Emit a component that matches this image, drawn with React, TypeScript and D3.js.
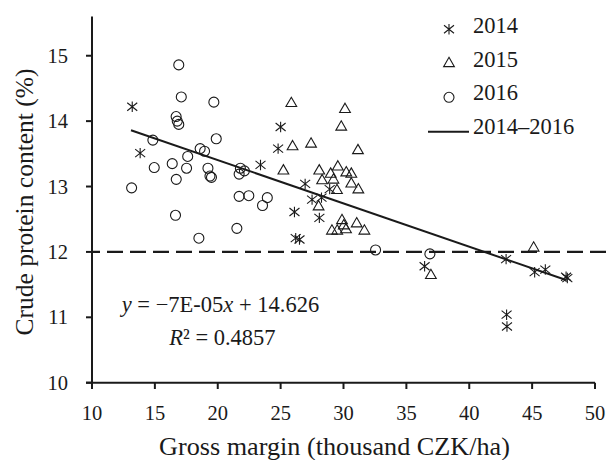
import React from "react";
import * as d3 from "d3";

// ---- data ----
const x2014 = [13.2, 13.83, 23.4, 24.8, 25.0, 26.95, 26.1, 26.2, 26.5, 27.5, 28.25, 28.08, 28.9, 36.45, 42.93, 42.97, 43.0, 45.2, 46.05, 47.7, 47.8];
const y2014 = [14.22, 13.51, 13.33, 13.58, 13.91, 13.04, 12.61, 12.21, 12.19, 12.8, 12.83, 12.52, 12.96, 11.78, 11.89, 11.04, 10.86, 11.69, 11.73, 11.62, 11.6];

const x2015 = [25.85, 30.12, 29.82, 25.95, 27.42, 31.15, 25.22, 28.07, 29.55, 28.98, 30.22, 30.62, 28.3, 29.2, 30.62, 29.48, 31.18, 28.02, 29.88, 30.02, 31.05, 29.08, 29.5, 30.2, 31.66, 45.12, 36.95];
const y2015 = [14.27, 14.18, 13.91, 13.61, 13.65, 13.55, 13.24, 13.24, 13.3, 13.19, 13.21, 13.19, 13.09, 13.1, 13.04, 12.94, 12.95, 12.69, 12.48, 12.4, 12.43, 12.32, 12.32, 12.34, 12.32, 12.06, 11.64];

const x2016 = [16.9, 17.1, 19.69, 16.69, 16.78, 16.9, 14.84, 19.88, 18.6, 18.95, 17.61, 14.95, 16.38, 17.52, 16.7, 19.22, 19.38, 19.5, 13.15, 21.8, 22.12, 21.7, 21.7, 22.47, 23.56, 23.94, 16.64, 18.5, 21.52, 32.55, 36.87];
const y2016 = [14.86, 14.37, 14.29, 14.07, 14.0, 13.95, 13.71, 13.73, 13.58, 13.54, 13.46, 13.29, 13.35, 13.28, 13.11, 13.28, 13.16, 13.14, 12.98, 13.28, 13.24, 13.19, 12.85, 12.86, 12.71, 12.83, 12.56, 12.21, 12.36, 12.03, 11.97];

const trendX = [13.1, 47.7];
const trendY = [13.86, 11.57];
const threshold = 12;

const xTicks = [10, 15, 20, 25, 30, 35, 40, 45, 50];
const yTicks = [10, 11, 12, 13, 14, 15];
const legendLabels = ["2014", "2015", "2016", "2014\u20132016"];

const FONT = "'Liberation Serif', 'Times New Roman', serif";
const INK = "#1a1a1a";

const asteriskType = {
  draw(ctx: any, _size: number) {
    ctx.moveTo(0, -5.2);
    ctx.lineTo(0, 5.2);
    ctx.moveTo(-5, -4);
    ctx.lineTo(5, 4);
    ctx.moveTo(-5, 4);
    ctx.lineTo(5, -4);
  },
};

export default function App() {
  const x = d3.scaleLinear().domain([10, 50]).range([92, 595]);
  const y = d3.scaleLinear().domain([10, 15.6]).range([382.7, 16.5]);

  const asterisk = d3.symbol().type(asteriskType as any)()!;
  const triangle = d3.symbol().type(d3.symbolTriangle).size(50)()!;
  const circle = d3.symbol().type(d3.symbolCircle).size(Math.PI * 25)()!;

  const line = d3.line<number>().x((d, i) => x(trendX[i])).y((d, i) => y(d));

  const markerStyle = { fill: "none", stroke: INK, strokeWidth: 1.1 };

  return (
    <svg width={609} height={460} style={{ position: "absolute", left: 0, top: 0, background: "#fff" }}>
      {/* threshold dashed line */}
      <line x1={x(10)} x2={609} y1={y(threshold)} y2={y(threshold)} stroke={INK} strokeWidth={2.4} strokeDasharray="16 7" strokeDashoffset={8} />

      {/* axes */}
      <line x1={x(10)} x2={x(10)} y1={16.5} y2={389} stroke={INK} strokeWidth={2} />
      <line x1={86} x2={x(50)} y1={y(10)} y2={y(10)} stroke={INK} strokeWidth={2} />
      {yTicks.map((t) => (
        <g key={"yt" + t}>
          <line x1={86} x2={x(10)} y1={y(t)} y2={y(t)} stroke={INK} strokeWidth={2} />
          <text x={68} y={y(t)} dy="0.35em" textAnchor="end" fontFamily={FONT} fontSize={20.5} fill={INK}>{t}</text>
        </g>
      ))}
      {xTicks.map((t) => (
        <g key={"xt" + t}>
          <line x1={x(t)} x2={x(t)} y1={y(10)} y2={389} stroke={INK} strokeWidth={2} />
          <text x={x(t)} y={420} textAnchor="middle" fontFamily={FONT} fontSize={20.5} fill={INK}>{t}</text>
        </g>
      ))}

      {/* axis titles */}
      <text x={334.5} y={455} textAnchor="middle" fontFamily={FONT} fontSize={26.2} fill={INK}>Gross margin (thousand CZK/ha)</text>
      <text transform={`translate(33,202) rotate(-90)`} textAnchor="middle" fontFamily={FONT} fontSize={25.5} fill={INK}>Crude protein content (%)</text>

      {/* trend line */}
      <path d={line(trendY) || ""} fill="none" stroke={INK} strokeWidth={2} />

      {/* points */}
      {x2016.map((v, i) => (
        <path key={"c" + i} d={circle} transform={`translate(${x(v)},${y(y2016[i])})`} {...markerStyle} />
      ))}
      {x2015.map((v, i) => (
        <path key={"t" + i} d={triangle} transform={`translate(${x(v)},${y(y2015[i])})`} {...markerStyle} />
      ))}
      {x2014.map((v, i) => (
        <path key={"a" + i} d={asterisk} transform={`translate(${x(v)},${y(y2014[i])})`} {...markerStyle} />
      ))}

      {/* equation */}
      <text x={121.7} y={311.7} fontFamily={FONT} fontSize={22.5} fill={INK}>
        <tspan fontStyle="italic">y</tspan> = −7E-05<tspan fontStyle="italic">x</tspan> + 14.626
      </text>
      <text x={169.3} y={345} fontFamily={FONT} fontSize={22.5} fill={INK}>
        <tspan fontStyle="italic">R</tspan>² = 0.4857
      </text>

      {/* legend */}
      <path d={asterisk} transform="translate(449,29.3)" {...markerStyle} />
      <path d={triangle} transform="translate(449,63.5)" {...markerStyle} />
      <path d={circle} transform="translate(449,97.3)" {...markerStyle} />
      <line x1={428} x2={469} y1={131.7} y2={131.7} stroke={INK} strokeWidth={2} />
      {legendLabels.map((l, i) => (
        <text key={l} x={473} y={32.7 + i * 33.8} fontFamily={FONT} fontSize={22.5} fill={INK}>{l}</text>
      ))}
    </svg>
  );
}
